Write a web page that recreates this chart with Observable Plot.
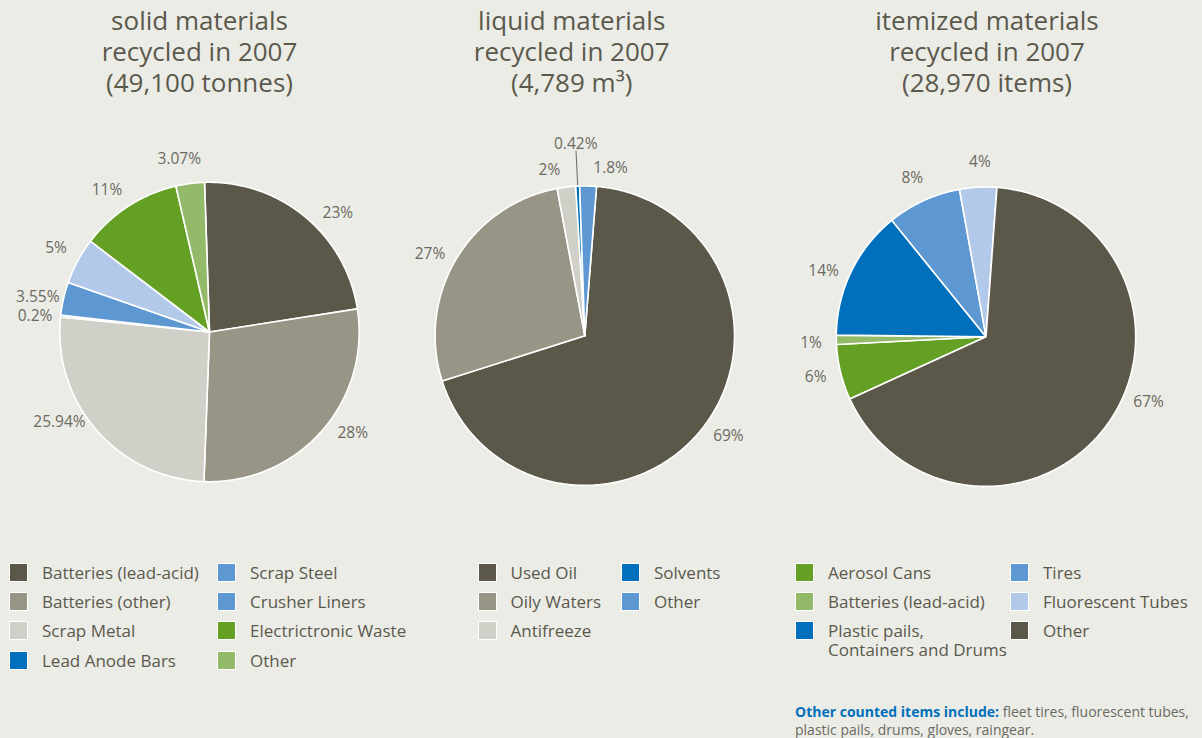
<!DOCTYPE html>
<html>
<head>
<meta charset="utf-8">
<script src="https://cdn.jsdelivr.net/npm/d3@7"></script>
<script src="https://cdn.jsdelivr.net/npm/@observablehq/plot@0.6"></script>
<style>
  html, body { margin: 0; padding: 0; background: #ecece7; width: 1202px; height: 738px; overflow: hidden; }
  body { font-family: "Open Sans", sans-serif; color: #5a594c; }
  #root { position: relative; width: 1202px; height: 738px; }
  .title { position: absolute; top: 5px; width: 300px; margin-left: -150px; text-align: center;
           font-size: 26px; line-height: 31.2px; color: #5a594c; white-space: nowrap; }
  .lg-item { position: absolute; height: 19px; font-size: 17px; line-height: 19px; color: #5a594c; white-space: nowrap; }
  .lg-sw { position: absolute; left: 0; top: 0; width: 19px; height: 19px; box-sizing: border-box; border: 1px solid #ffffff; }
  .lg-tx { position: absolute; left: 33px; top: 0; }
  .note { position: absolute; left: 795px; top: 703px; font-size: 14px; line-height: 18px; color: #6b6a5f; width: 420px; white-space: nowrap; }
  .note b { color: #0070bc; }
  #chart { position: absolute; left: 0; top: 130px; }
</style>
</head>
<body>
<div id="root"></div>
<script>
// ---------------- DATA ----------------
const solidCategories = ["Batteries (lead-acid)", "Batteries (other)", "Scrap Metal", "Lead Anode Bars",
                         "Scrap Steel", "Crusher Liners", "Electrictronic Waste", "Other"];
const solidValues = [23, 28, 25.94, 0.2, 3.55, 5, 11, 3.07];
const solidLabels = ["23%", "28%", "25.94%", "0.2%", "3.55%", "5%", "11%", "3.07%"];

const liquidCategories = ["Used Oil", "Oily Waters", "Antifreeze", "Solvents", "Other"];
const liquidValues = [69, 27, 2, 0.42, 1.8];
const liquidLabels = ["69%", "27%", "2%", "0.42%", "1.8%"];

const itemCategories = ["Aerosol Cans", "Batteries (lead-acid)", "Plastic pails,\nContainers and Drums",
                        "Tires", "Fluorescent Tubes", "Other"];
const itemValues = [6, 1, 14, 8, 4, 67];
const itemLabels = ["6%", "1%", "14%", "8%", "4%", "67%"];

const titles = [
  ["solid materials", "recycled in 2007", "(49,100 tonnes)"],
  ["liquid materials", "recycled in 2007", "(4,789 m³)"],
  ["itemized materials", "recycled in 2007", "(28,970 items)"]
];
const noteBold = "Other counted items include:";
const noteText = " fleet tires, fluorescent tubes, plastic pails, drums, gloves, raingear.";

// ---------------- STYLE / LAYOUT ----------------
const solidColors  = ["#5b5849", "#989586", "#d1d0c8", "#0070bc", "#5e98d2", "#b3c9e9", "#64a023", "#93ba68"];
const solidLegendColors = ["#5b5849", "#989586", "#d1d0c8", "#0070bc", "#5e98d2", "#5e98d2", "#64a023", "#93ba68"];
const liquidColors = ["#5b5849", "#989586", "#d1d0c8", "#0070bc", "#5e98d2"];
const itemColors   = ["#64a023", "#93ba68", "#0070bc", "#5e98d2", "#b3c9e9", "#5b5849"];

// label angle adjustments (degrees) to keep labels clear of one another
const solidLabelShift  = [7.5, -6.5, 10, -1, -1.5, 0.5, -3, -2.5];
const liquidLabelShift = [-3.5, -3, -5, 0, 7.5];
const itemLabelShift   = [0.4, -1, -3.8, -0.3, 1, -13];

const R = 149.7;
const charts = [
  {cx: 209,   cy: 331.5, start: -1.9,  values: solidValues,  labels: solidLabels,  colors: solidColors,  shift: solidLabelShift,  callout: -1,
   titleX: 199.5, cats: solidCategories, lgColors: solidLegendColors, lgCols: [9, 217], lgRows: 4},
  {cx: 584.3, cy: 335.2, start: 4.5,   values: liquidValues, labels: liquidLabels, colors: liquidColors, shift: liquidLabelShift, callout: 3,
   titleX: 571.7, cats: liquidCategories, lgColors: liquidColors, lgCols: [477.5, 621], lgRows: 3},
  {cx: 985.5, cy: 336.2, start: 245.4, values: itemValues,   labels: itemLabels,   colors: itemColors,   shift: itemLabelShift,   callout: -1,
   titleX: 987, cats: itemCategories, lgColors: itemColors, lgCols: [795, 1010], lgRows: 3}
];
const rowCenters = [572.5, 601.8, 630.8, 660];

// ---------------- BUILD GEOMETRY ----------------
const rad = d => d * Math.PI / 180;
const pt = (c, a, r) => [c.cx + r * Math.sin(rad(a)), c.cy - r * Math.cos(rad(a))];

const slices = [], labelRows = [], leaders = [];
charts.forEach((c) => {
  const total = d3.sum(c.values);
  let a = c.start;
  c.values.forEach((v, i) => {
    const span = v / total * 360;
    const n = Math.max(2, Math.ceil(span * 2));
    const ring = [[c.cx, c.cy]];
    for (let k = 0; k <= n; k++) ring.push(pt(c, a + span * k / n, R));
    ring.push([c.cx, c.cy]);
    slices.push({type: "Feature", properties: {fill: c.colors[i]}, geometry: {type: "Polygon", coordinates: [ring]}});
    const mid = a + span / 2;
    if (i === c.callout) {
      const [x, y] = pt(c, mid, R * 1.28);
      labelRows.push({x, y, text: c.labels[i]});
      leaders.push({type: "Feature", properties: {}, geometry: {type: "LineString",
        coordinates: [pt(c, mid, R * 1.01), pt(c, mid, R * 1.235)]}});
    } else {
      // labels beside a callout sit a little closer to the pie
      const near = (c.callout >= 0 && Math.abs(i - c.callout) === 1) ? 1.13 : 1.17;
      const [x, y] = pt(c, mid + c.shift[i], R * near);
      labelRows.push({x, y, text: c.labels[i]});
    }
    a += span;
  });
});

const frame = {type: "Polygon", coordinates: [[[0, 130], [1202, 130], [1202, 530], [0, 530], [0, 130]]]};

const plot = Plot.plot({
  width: 1202,
  height: 400,
  margin: 0,
  projection: {type: "identity", domain: frame},
  color: {type: "identity"},
  style: {background: "transparent", fontFamily: "'Open Sans', sans-serif", fontSize: "15.5px", overflow: "visible"},
  marks: [
    Plot.geo(slices, {fill: d => d.properties.fill, stroke: "#ffffff", strokeWidth: 1.6, strokeLinejoin: "round"}),
    Plot.geo(leaders, {stroke: "#6b6a5f", strokeWidth: 1}),
    Plot.text(labelRows, {x: "x", y: "y", text: "text", fill: "#6b6a5f", fontSize: 15.5})
  ]
});
plot.id = "chart";
const root = document.getElementById("root");
root.appendChild(plot);

// ---------------- TITLES ----------------
charts.forEach((c, ci) => {
  const t = document.createElement("div");
  t.className = "title";
  t.style.left = c.titleX + "px";
  t.innerHTML = titles[ci].join("<br>");
  root.appendChild(t);
});

// ---------------- LEGENDS ----------------
charts.forEach((c) => {
  c.cats.forEach((name, i) => {
    const col = Math.floor(i / c.lgRows), row = i % c.lgRows;
    const item = document.createElement("div");
    item.className = "lg-item";
    item.style.left = c.lgCols[col] + "px";
    item.style.top = (rowCenters[row] - 9.5) + "px";
    const sw = document.createElement("div");
    sw.className = "lg-sw";
    sw.style.background = c.lgColors[i];
    const tx = document.createElement("div");
    tx.className = "lg-tx";
    tx.innerHTML = name.replace("\n", "<br>");
    item.appendChild(sw);
    item.appendChild(tx);
    root.appendChild(item);
  });
});

// ---------------- NOTE ----------------
const note = document.createElement("div");
note.className = "note";
note.innerHTML = "<b>" + noteBold + "</b>" + noteText.replace(" plastic", "<br>plastic");
root.appendChild(note);
</script>
</body>
</html>
